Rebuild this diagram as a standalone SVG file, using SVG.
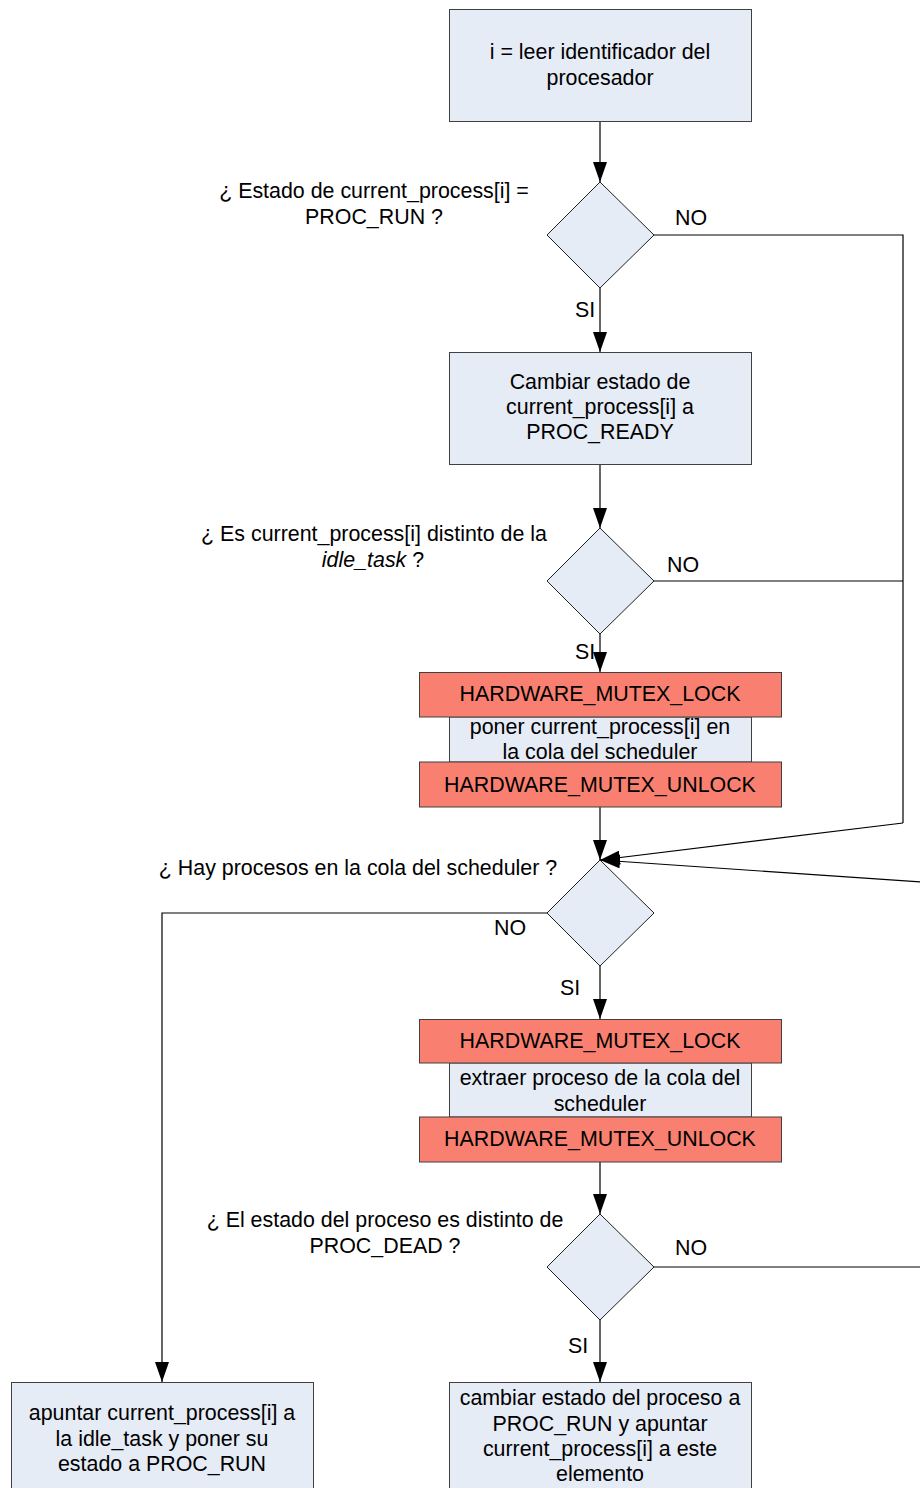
<svg xmlns="http://www.w3.org/2000/svg" width="920" height="1488" viewBox="0 0 920 1488">
  <style>
    text { font-family: "Liberation Sans", Arial, sans-serif; font-size: 21.4px; fill: #000; }
    .c { text-anchor: middle; }
    .box { fill: #E6ECF6; stroke: #404040; stroke-width: 1; }
    .mutex { fill: #F98070; stroke: #404040; stroke-width: 1; }
    .dec { fill: #E6ECF6; stroke: #202020; stroke-width: 1; }
    .ln { fill: none; stroke: #000; stroke-width: 1.2; }
    .arr { fill: none; stroke: #000; stroke-width: 1.2; marker-end: url(#ah); }
  </style>
  <defs>
    <marker id="ah" markerUnits="userSpaceOnUse" markerWidth="20" markerHeight="14" refX="20" refY="7" orient="auto" viewBox="0 0 20 14">
      <path d="M0,0 L20,7 L0,14 z" fill="#000"/>
    </marker>
  </defs>
  <rect width="920" height="1488" fill="#fff"/>

  <!-- connectors -->
  <g id="connectors">
    <line class="arr" x1="600" y1="122" x2="600" y2="182"/>
    <line class="arr" x1="600" y1="288" x2="600" y2="352"/>
    <line class="arr" x1="600" y1="464" x2="600" y2="528"/>
    <line class="arr" x1="600" y1="634" x2="600" y2="672"/>
    <line class="arr" x1="600" y1="807" x2="600" y2="860"/>
    <line class="arr" x1="600" y1="966" x2="600" y2="1019"/>
    <line class="arr" x1="600" y1="1162" x2="600" y2="1214"/>
    <line class="arr" x1="600" y1="1320" x2="600" y2="1382"/>
    <polyline class="ln" points="654,235 903,235 903,823"/>
    <line class="ln" x1="654" y1="581" x2="903" y2="581"/>
    <line class="arr" x1="903" y1="823" x2="600" y2="860"/>
    <line class="arr" x1="935" y1="883" x2="600" y2="860"/>
    <line class="ln" x1="654" y1="1267" x2="935" y2="1267"/>
    <polyline class="arr" points="547,913 162,913 162,1382"/>
    <text class="c" x="691" y="225">NO</text>
    <text class="c" x="585" y="317">SI</text>
    <text class="c" x="683" y="572">NO</text>
    <text class="c" x="585" y="659">SI</text>
    <text class="c" x="510" y="935">NO</text>
    <text class="c" x="570" y="995">SI</text>
    <text class="c" x="691" y="1255">NO</text>
    <text class="c" x="578" y="1353">SI</text>
  </g>

  <g id="leer-id">
    <rect class="box" x="449.5" y="9.5" width="302" height="112"/>
    <text class="c" x="600" y="59">i = leer identificador del</text>
    <text class="c" x="600" y="85">procesador</text>
  </g>

  <g id="dec-run">
    <polygon class="dec" points="600,182 654,235 600,288 547,235"/>
    <text class="c" x="374" y="198">¿ Estado de current_process[i] =</text>
    <text class="c" x="374" y="224">PROC_RUN ?</text>
  </g>

  <g id="cambiar-ready">
    <rect class="box" x="449.5" y="352.5" width="302" height="112"/>
    <text class="c" x="600" y="389">Cambiar estado de</text>
    <text class="c" x="600" y="414">current_process[i] a</text>
    <text class="c" x="600" y="439">PROC_READY</text>
  </g>

  <g id="dec-idle">
    <polygon class="dec" points="600,528 654,581 600,634 547,581"/>
    <text class="c" x="374" y="541">¿ Es current_process[i] distinto de la</text>
    <text class="c" x="373" y="567"><tspan font-style="italic">idle_task</tspan> ?</text>
  </g>

  <g id="poner-cola">
    <rect class="box" x="449.5" y="717" width="302" height="45"/>
    <rect class="mutex" x="419.5" y="672.5" width="362" height="44.5"/>
    <rect class="mutex" x="419.5" y="762" width="362" height="45"/>
    <text class="c" x="600" y="701">HARDWARE_MUTEX_LOCK</text>
    <text class="c" x="600" y="734">poner current_process[i] en</text>
    <text class="c" x="600" y="759">la cola del scheduler</text>
    <text class="c" x="600" y="792">HARDWARE_MUTEX_UNLOCK</text>
  </g>

  <g id="dec-cola">
    <polygon class="dec" points="600,860 654,913 600,966 547,913"/>
    <text class="c" x="358" y="875">¿ Hay procesos en la cola del scheduler ?</text>
  </g>

  <g id="extraer">
    <rect class="box" x="449.5" y="1063" width="302" height="54"/>
    <rect class="mutex" x="419.5" y="1019.5" width="362" height="43.5"/>
    <rect class="mutex" x="419.5" y="1117" width="362" height="45"/>
    <text class="c" x="600" y="1048">HARDWARE_MUTEX_LOCK</text>
    <text class="c" x="600" y="1085">extraer proceso de la cola del</text>
    <text class="c" x="600" y="1111">scheduler</text>
    <text class="c" x="600" y="1146">HARDWARE_MUTEX_UNLOCK</text>
  </g>

  <g id="dec-dead">
    <polygon class="dec" points="600,1214 654,1267 600,1320 547,1267"/>
    <text class="c" x="385" y="1227">¿ El estado del proceso es distinto de</text>
    <text class="c" x="385" y="1253">PROC_DEAD ?</text>
  </g>

  <g id="idle-run">
    <rect class="box" x="11.5" y="1382.5" width="302" height="112"/>
    <text class="c" x="162" y="1420">apuntar current_process[i] a</text>
    <text class="c" x="162" y="1446">la idle_task y poner su</text>
    <text class="c" x="162" y="1471">estado a PROC_RUN</text>
  </g>

  <g id="proc-run">
    <rect class="box" x="449.5" y="1382.5" width="302" height="112"/>
    <text class="c" x="600" y="1405">cambiar estado del proceso a</text>
    <text class="c" x="600" y="1431">PROC_RUN y apuntar</text>
    <text class="c" x="600" y="1456">current_process[i] a este</text>
    <text class="c" x="600" y="1481">elemento</text>
  </g>
</svg>
